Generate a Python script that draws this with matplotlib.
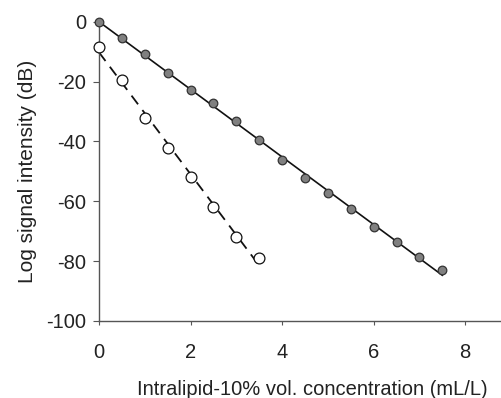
import numpy as np
import matplotlib
matplotlib.use("Agg")
import matplotlib.pyplot as plt

plt.rcParams['font.family'] = ['Liberation Sans', 'DejaVu Sans']

# Data
conc_filled = [0, 0.5, 1.0, 1.5, 2.0, 2.5, 3.0, 3.5, 4.0, 4.5, 5.0, 5.5, 6.0, 6.5, 7.0, 7.5]
signal_filled = [0, -5.5, -10.7, -17.3, -22.8, -27.0, -33.1, -39.4, -46.3, -52.3, -57.4, -62.5, -68.5, -73.5, -78.5, -83.0]
conc_open = [0, 0.5, 1.0, 1.5, 2.0, 2.5, 3.0, 3.5]
signal_open = [-8.5, -19.4, -32.1, -42.1, -51.9, -62.0, -71.9, -78.9]
xticks = [0, 2, 4, 6, 8]
yticks = [0, -20, -40, -60, -80, -100]

fig = plt.figure(figsize=(5.01, 3.98), dpi=100)
ax = fig.add_axes([99/501, 1-321/398, 401/501, (321-21.7)/398])

# Fit lines
cf = np.array(conc_filled); sf = np.array(signal_filled)
p1 = np.polyfit(cf, sf, 1)
xf = np.array([cf.min(), cf.max()])
ax.plot(xf, np.polyval(p1, xf), color='#111111', lw=1.2, zorder=2, clip_on=False)

co = np.array(conc_open); so = np.array(signal_open)
p2 = np.polyfit(co, so, 1)
xo = np.array([co.min(), co.max()])
ax.plot(xo, np.polyval(p2, xo), color='#111111', lw=1.3, ls=(0, (6, 4)), zorder=2, clip_on=False)

ax.plot(conc_filled, signal_filled, 'o', ms=6.2, mfc='#808080', mec='#333333', mew=0.9, zorder=3, clip_on=False)
ax.plot(conc_open, signal_open, 'o', ms=7.8, mfc='white', mec='#111111', mew=0.9, zorder=3, clip_on=False)

ax.set_xlim(0, 8.76)
ax.set_ylim(-100, 0)
ax.set_xticks(xticks)
ax.set_yticks(yticks)
ax.set_xticklabels([str(t) for t in xticks])
ax.set_yticklabels([str(t) for t in yticks])

for s in ['top', 'right']:
    ax.spines[s].set_visible(False)
for s in ['left', 'bottom']:
    ax.spines[s].set_color('#555555')
    ax.spines[s].set_linewidth(1.0)

ax.tick_params(axis='both', labelsize=14.5, colors='#555555', labelcolor='#222222')
ax.tick_params(axis='y', direction='out', length=4, width=0.8, pad=5)
ax.tick_params(axis='x', direction='out', length=3, width=0.8, pad=13)

ax.set_xlabel('Intralipid-10% vol. concentration (mL/L)', fontsize=14.5, color='#222222', labelpad=13, x=0.532)
ax.set_ylabel('Log signal intensity (dB)', fontsize=15, color='#222222', labelpad=7)

fig.savefig('out.png', dpi=100)
